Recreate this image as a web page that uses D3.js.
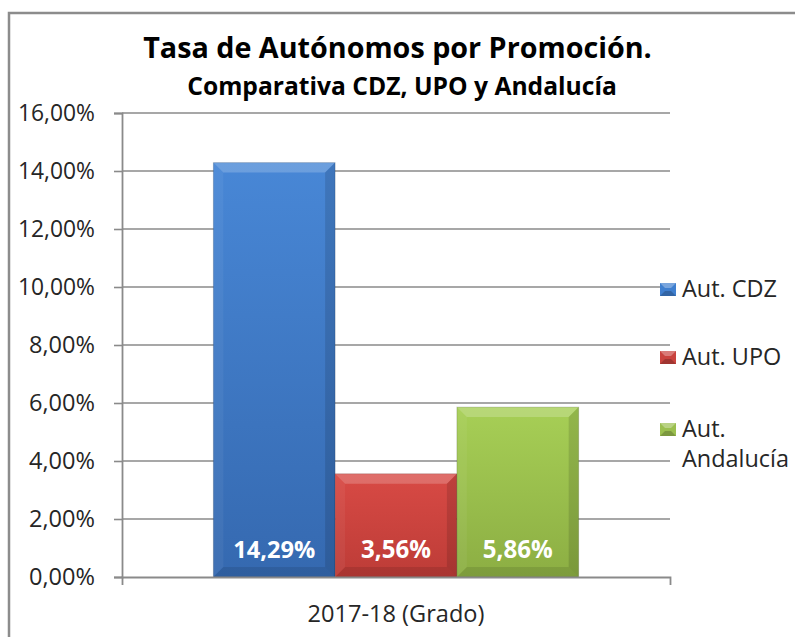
<!DOCTYPE html>
<html><head><meta charset="utf-8">
<script src="https://cdn.jsdelivr.net/npm/d3@7"></script>
<style>html,body{margin:0;padding:0;background:#fff;}svg{display:block;}</style>
</head><body>
<svg id="c" width="795" height="637"></svg>
<script>
const categories = ["2017-18 (Grado)"];
const seriesNames = ["Aut. CDZ", "Aut. UPO", "Aut. Andalucía"];
const seriesValues = [0.1429, 0.0356, 0.0586];
const yTicks = [0, 0.02, 0.04, 0.06, 0.08, 0.10, 0.12, 0.14, 0.16];
const titleText = "Tasa de Autónomos por Promoción.";
const subtitleText = "Comparativa CDZ, UPO y Andalucía";

const colors = [
  {top:"#4887d6", bot:"#3569b0", mark:"#3f7fcf"},
  {top:"#d84a45", bot:"#bd3c37", mark:"#c9433e"},
  {top:"#a7cf56", bot:"#8cae43", mark:"#9bbf4f"}
];

const FONT = "'Open Sans', 'Noto Sans', sans-serif";
const svg = d3.select("#c");
const locale = d3.formatLocale({decimal:",", thousands:".", grouping:[3], currency:["","€"]});
const pct = locale.format(".2%");

function fit(sel, w) {
  const l = sel.node().getComputedTextLength();
  const fs = parseFloat(sel.attr("font-size"));
  sel.attr("font-size", fs * w / l);
}

// outer border
svg.append("path").attr("d","M9,637 L9,13 L795,13").attr("fill","none")
  .attr("stroke","#8c8c8c").attr("stroke-width",2.5);

const plot = {l:122, r:670, t:113, b:577};
const y = d3.scaleLinear().domain([0,0.16]).range([plot.b, plot.t]);
const x = d3.scaleBand().domain(categories).range([plot.l, plot.r]).paddingInner(0).paddingOuter(0.25);
const xs = d3.scaleBand().domain(seriesNames).range([x(categories[0]), x(categories[0]) + x.bandwidth()]);

// gridlines
svg.append("g").selectAll("line").data(yTicks.filter(d=>d>0)).join("line")
  .attr("x1", plot.l).attr("x2", plot.r)
  .attr("y1", d=>y(d)).attr("y2", d=>y(d))
  .attr("stroke","#8a8a8a").attr("stroke-width",1.6);

// y axis
const yAxis = svg.append("g").attr("transform",`translate(${plot.l},0)`)
  .call(d3.axisLeft(y).tickValues(yTicks).tickFormat(pct).tickSize(8).tickPadding(19));
yAxis.select(".domain").attr("stroke","#8a8a8a").attr("stroke-width",1.8);
yAxis.selectAll(".tick line").attr("stroke","#8a8a8a").attr("stroke-width",1.6);
yAxis.selectAll(".tick text").attr("font-family",FONT).attr("font-size",20).attr("fill","#262626");
yAxis.selectAll(".tick text").each(function(){ fit(d3.select(this), d3.select(this).text().length===6?77:66); });

// bars
const defs = svg.append("defs");
colors.forEach((c,i)=>{
  const g = defs.append("linearGradient").attr("id","g"+i).attr("x1",0).attr("y1",0).attr("x2",0).attr("y2",1);
  g.append("stop").attr("offset","0%").attr("stop-color",c.top);
  g.append("stop").attr("offset","100%").attr("stop-color",c.bot);
});
const bars = svg.append("g");
seriesNames.forEach((s,i)=>{
  const x0 = xs(s), w = xs.bandwidth(), y0 = y(seriesValues[i]), y1 = y(0), h = y1 - y0;
  const b = Math.min(10, h/2, w/2);
  const gb = bars.append("g");
  gb.append("rect").attr("x",x0).attr("y",y0).attr("width",w).attr("height",h).attr("fill",`url(#g${i})`);
  // bevel
  gb.append("path").attr("d",`M${x0},${y0}L${x0+w},${y0}L${x0+w-b},${y0+b}L${x0+b},${y0+b}Z`).attr("fill","#fff").attr("opacity",0.2);
  gb.append("path").attr("d",`M${x0},${y0}L${x0+b},${y0+b}L${x0+b},${y1-b}L${x0},${y1}Z`).attr("fill","#fff").attr("opacity",0.05);
  gb.append("path").attr("d",`M${x0+w},${y0}L${x0+w},${y1}L${x0+w-b},${y1-b}L${x0+w-b},${y0+b}Z`).attr("fill","#000").attr("opacity",0.12);
  gb.append("path").attr("d",`M${x0},${y1}L${x0+w},${y1}L${x0+w-b},${y1-b}L${x0+b},${y1-b}Z`).attr("fill","#000").attr("opacity",0.1);
  gb.append("rect").attr("x",x0).attr("y",y0).attr("width",w).attr("height",h).attr("fill","none")
    .attr("stroke","#000").attr("stroke-opacity",0.15).attr("stroke-width",1);
  const t = gb.append("text").attr("x",x0+w/2).attr("y",y1-19).attr("text-anchor","middle")
    .attr("font-family",FONT).attr("font-weight","bold").attr("font-size",22).attr("fill","#fff")
    .text(pct(seriesValues[i]));
  fit(t, pct(seriesValues[i]).length===6?82:70);
});

// x axis
const xAxis = svg.append("g").attr("transform",`translate(0,${plot.b})`)
  .call(d3.axisBottom(x).tickValues([]).tickSizeOuter(8));
xAxis.select(".domain").attr("stroke","#8a8a8a").attr("stroke-width",1.8);
const xl = svg.append("text").attr("x", x(categories[0]) + x.bandwidth()/2).attr("y",622)
  .attr("text-anchor","middle").attr("font-family",FONT).attr("font-size",20).attr("fill","#262626")
  .text(categories[0]);
fit(xl, 177);

// title
const tt = svg.append("text").attr("x",397.5).attr("y",58).attr("text-anchor","middle")
  .attr("font-family",FONT).attr("font-weight","bold").attr("font-size",28).attr("fill","#000").text(titleText);
fit(tt, 509);
const st = svg.append("text").attr("x",402).attr("y",95).attr("text-anchor","middle")
  .attr("font-family",FONT).attr("font-weight","bold").attr("font-size",22).attr("fill","#000").text(subtitleText);
fit(st, 430);

// legend
const legY = [297, 365, 437];
const legLines = [["Aut. CDZ"],["Aut. UPO"],["Aut.","Andalucía"]];
let legFs = null;
seriesNames.forEach((s,i)=>{
  const g = svg.append("g");
  const my = legY[i]-14;
  g.append("rect").attr("x",660).attr("y",my).attr("width",16).attr("height",13).attr("fill",colors[i].mark);
  g.append("path").attr("d",`M660,${my}L676,${my}L671,${my+5}L665,${my+5}Z`).attr("fill","#fff").attr("opacity",0.3);
  g.append("path").attr("d",`M660,${my+13}L676,${my+13}L671,${my+8}L665,${my+8}Z`).attr("fill","#000").attr("opacity",0.2);
  legLines[i].forEach((ln,j)=>{
    const t = g.append("text").attr("x",682).attr("y",legY[i]+j*30)
      .attr("font-family",FONT).attr("font-size",20).attr("fill","#262626").text(ln);
    if (legFs === null) { fit(t,95); legFs = t.attr("font-size"); }
    else t.attr("font-size", legFs);
  });
});
</script>
</body></html>
